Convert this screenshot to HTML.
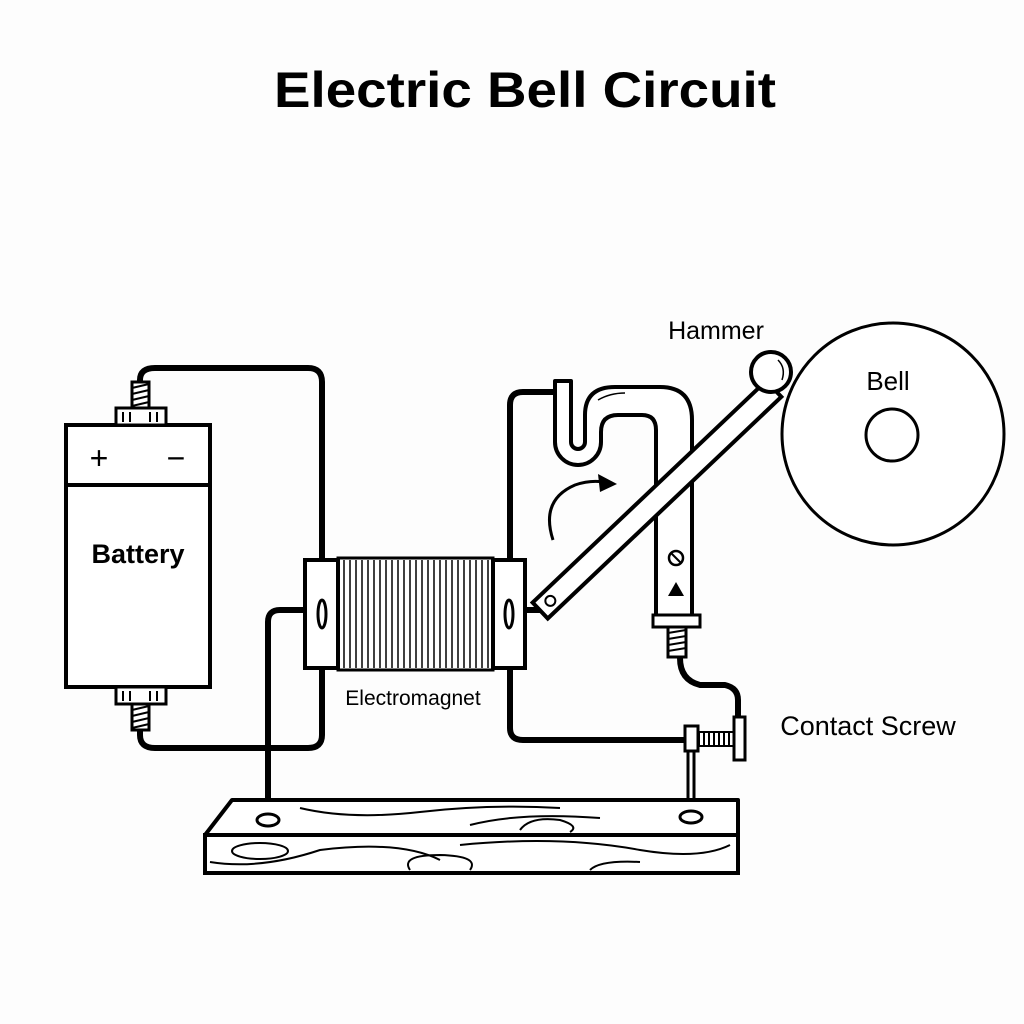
<!DOCTYPE html>
<html><head><meta charset="utf-8"><style>
html,body{margin:0;padding:0;background:#fdfdfd;}
svg{display:block}
text{font-family:"Liberation Sans",sans-serif;fill:#000}
</style></head><body>
<svg width="1024" height="1024" viewBox="0 0 1024 1024" xmlns="http://www.w3.org/2000/svg">
<rect width="1024" height="1024" fill="#fdfdfd"/>
<text x="274" y="107" font-size="50" font-weight="bold" textLength="502" lengthAdjust="spacingAndGlyphs">Electric Bell Circuit</text>

<!-- wires -->
<g fill="none" stroke="#000" stroke-width="6" stroke-linejoin="round" stroke-linecap="round">
<path d="M140 382 V380 Q140 368 155 368 H308 Q322 368 322 382 V560"/>
<path d="M140 728 V735 Q140 748 155 748 H308 Q322 748 322 735 V668"/>
<path d="M305 610 H280 Q268 610 268 622 V818"/>
<path d="M555 392 H523 Q510 392 510 405 V560"/>
<path d="M510 668 V728 Q510 740 523 740 H688"/>
<path d="M680 658 Q680 680 700 685 H725 Q738 688 738 700 V718"/>
<path d="M525 610 H540"/>
</g>

<!-- battery -->
<g stroke="#000" stroke-width="4" fill="#fff">
<rect x="66" y="425" width="144" height="262"/>
<line x1="66" y1="485" x2="210" y2="485"/>
<rect x="116" y="408" width="50" height="17" stroke-width="3"/>
<rect x="116" y="687" width="50" height="17" stroke-width="3"/>
<rect x="132" y="382" width="17" height="26" stroke-width="3"/>
<rect x="132" y="704" width="17" height="26" stroke-width="3"/>
</g>
<g stroke="#000" stroke-width="2">
<path d="M132 388 l17 -4 M132 394 l17 -4 M132 400 l17 -4 M132 406 l17 -4"/>
<path d="M132 710 l17 -4 M132 716 l17 -4 M132 722 l17 -4 M132 728 l17 -4"/>
<path d="M123 412 v10 M130 412 v10 M150 412 v10 M157 412 v10 M123 691 v10 M130 691 v10 M150 691 v10 M157 691 v10"/>
</g>
<text x="99" y="469" font-size="32" text-anchor="middle">+</text>
<text x="176" y="469" font-size="32" text-anchor="middle">−</text>
<text x="138" y="563" font-size="27" font-weight="bold" text-anchor="middle">Battery</text>

<!-- electromagnet -->
<rect x="338" y="558" width="155" height="112" fill="#fff" stroke="#000" stroke-width="3"/>
<g stroke="#000" stroke-width="1.5" fill="none">
<path d="M344 560V668M350 560V668M356 560V668M362 560V668M368 560V668M374 560V668M380 560V668M386 560V668M392 560V668M398 560V668M404 560V668M410 560V668M416 560V668M422 560V668M428 560V668M434 560V668M440 560V668M446 560V668M452 560V668M458 560V668M464 560V668M470 560V668M476 560V668M482 560V668M488 560V668"/>
</g>
<g stroke="#000" stroke-width="4" fill="#fff">
<rect x="305" y="560" width="33" height="108"/>
<rect x="493" y="560" width="32" height="108"/>
</g>
<g stroke="#000" stroke-width="3" fill="none">
<ellipse cx="322" cy="614" rx="4" ry="14"/>
<ellipse cx="509" cy="614" rx="4" ry="14"/>
</g>
<text x="413" y="705" font-size="21" text-anchor="middle">Electromagnet</text>

<!-- S tube and post -->
<path d="M555 381 V442 A23 23 0 0 0 601 442 V432 Q601 415 618 415 H642 Q656 415 656 430 V618 H692 V420 Q692 387 660 387 H615 Q585 387 585 415 V442 A7 7 0 0 1 571 442 V381 Z" fill="#fff" stroke="#000" stroke-width="4" stroke-linejoin="round"/>
<path d="M598 400 Q610 393 625 393" fill="none" stroke="#000" stroke-width="1.5"/>
<circle cx="676" cy="558" r="7" fill="#fff" stroke="#000" stroke-width="2.5"/>
<line x1="671" y1="553" x2="681" y2="563" stroke="#000" stroke-width="2"/>
<path d="M668 596 L684 596 L676 582 Z" fill="#000"/>
<rect x="653" y="615" width="47" height="12" fill="#fff" stroke="#000" stroke-width="3"/>
<rect x="668" y="627" width="18" height="30" fill="#fff" stroke="#000" stroke-width="3"/>
<path d="M668 633 l18 -3 M668 639 l18 -3 M668 645 l18 -3 M668 651 l18 -3" stroke="#000" stroke-width="2"/>

<!-- curved arrow -->
<path d="M553 540 Q540 500 575 485 Q590 480 603 482" fill="none" stroke="#000" stroke-width="3"/>
<path d="M598 474 L617 484 L600 492 Z" fill="#000"/>

<!-- hammer arm -->
<g transform="translate(546 605) rotate(-43.5)">
<rect x="-8" y="-11" width="322" height="22" fill="#fff" stroke="#000" stroke-width="4"/>
<circle cx="6" cy="0" r="5" fill="none" stroke="#000" stroke-width="2"/>
</g>
<circle cx="771" cy="372" r="20" fill="#fff" stroke="#000" stroke-width="4"/>
<path d="M778 360 Q786 368 782 380" fill="none" stroke="#000" stroke-width="1.5"/>

<!-- bell -->
<circle cx="893" cy="434" r="111" fill="#fff" stroke="#000" stroke-width="3"/>
<circle cx="892" cy="435" r="26" fill="none" stroke="#000" stroke-width="3"/>
<text x="888" y="390" font-size="26" text-anchor="middle">Bell</text>
<text x="716" y="339" font-size="25" text-anchor="middle">Hammer</text>

<!-- contact screw -->
<line x1="691" y1="745" x2="691" y2="815" stroke="#000" stroke-width="9"/>
<line x1="691" y1="745" x2="691" y2="815" stroke="#fff" stroke-width="3"/>
<rect x="699" y="732" width="35" height="14" fill="#fff" stroke="#000" stroke-width="2"/>
<path d="M704 732v14M709 732v14M714 732v14M719 732v14M724 732v14M729 732v14" stroke="#000" stroke-width="2"/>
<rect x="685" y="726" width="13" height="25" fill="#fff" stroke="#000" stroke-width="3"/>
<rect x="734" y="717" width="11" height="43" fill="#fff" stroke="#000" stroke-width="3"/>
<text x="868" y="735" font-size="27" text-anchor="middle">Contact Screw</text>

<!-- base -->
<path d="M232 800 H738 V835 H205 Z" fill="#fff" stroke="#000" stroke-width="4" stroke-linejoin="round"/>
<rect x="205" y="835" width="533" height="38" fill="#fff" stroke="#000" stroke-width="4"/>
<g fill="none" stroke="#000" stroke-width="2">
<path d="M300 808 Q350 820 420 812 T560 808"/>
<path d="M470 825 Q520 812 600 818"/>
<path d="M520 830 Q530 816 560 820 Q580 826 570 832"/>
<ellipse cx="260" cy="851" rx="28" ry="8"/>
<path d="M210 862 Q260 870 320 850 Q400 840 440 860"/>
<path d="M410 870 Q400 855 440 855 Q480 856 470 870"/>
<path d="M460 845 Q560 835 640 850 Q700 860 730 845"/>
<path d="M590 870 Q600 860 640 862"/>
</g>
<ellipse cx="268" cy="820" rx="11" ry="6" fill="#fff" stroke="#000" stroke-width="3"/>
<ellipse cx="691" cy="817" rx="11" ry="6" fill="#fff" stroke="#000" stroke-width="3"/>
</svg>
</body></html>
